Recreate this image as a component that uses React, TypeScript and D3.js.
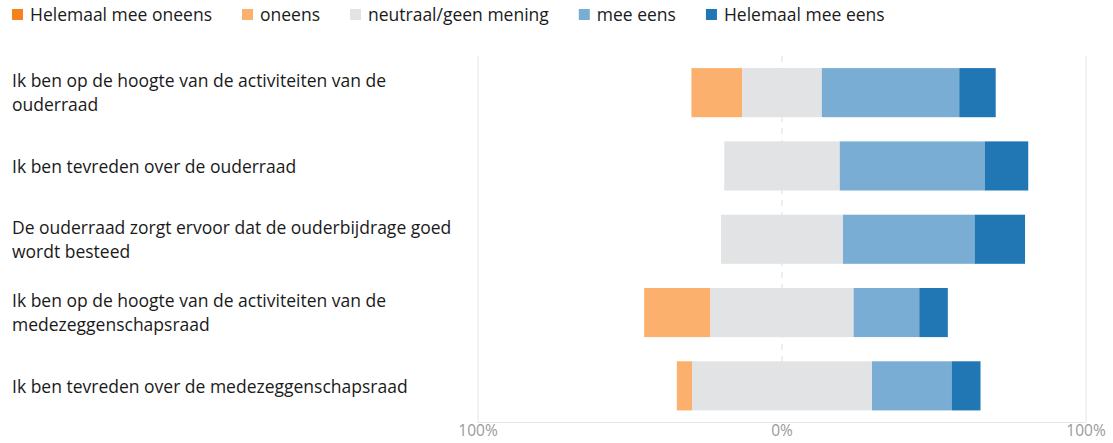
import { useEffect, useRef } from "react";
import * as d3 from "d3";

const WIDTH = 1113;
const HEIGHT = 443;

const seriesNames = [
  "Helemaal mee oneens",
  "oneens",
  "neutraal/geen mening",
  "mee eens",
  "Helemaal mee eens",
];
const seriesColors = ["#f5821f", "#fbb06d", "#e2e3e5", "#7aadd3", "#2077b4"];

// category labels, already broken into lines
const categoryLines = [
  ["Ik ben op de hoogte van de activiteiten van de", "ouderraad"],
  ["Ik ben tevreden over de ouderraad"],
  ["De ouderraad zorgt ervoor dat de ouderbijdrage goed", "wordt besteed"],
  ["Ik ben op de hoogte van de activiteiten van de", "medezeggenschapsraad"],
  ["Ik ben tevreden over de medezeggenschapsraad"],
];

// percentages per category
const helemaalOneens = [0, 0, 0, 0, 0];
const oneens = [16.7, 0, 0, 21.8, 5.0];
const neutraal = [26.2, 38.0, 40.1, 47.1, 59.2];
const meeEens = [45.2, 47.7, 43.3, 21.6, 26.2];
const helemaalEens = [12.0, 14.3, 16.6, 9.4, 9.5];

const xTicks = [-100, 0, 100];

const FONT = "'Open Sans', 'Noto Sans', sans-serif";

export default function App() {
  const svgRef = useRef<SVGSVGElement>(null);

  useEffect(() => {
    if (!svgRef.current) return;
    const svg = d3.select(svgRef.current);
    svg.selectAll("*").remove();

    const x = d3.scaleLinear().domain([-100, 100]).range([478, 1086]);
    const y = d3
      .scaleBand<number>()
      .domain(categoryLines.map((_, i) => i))
      .range([56, 422.5])
      .paddingInner(0.33)
      .paddingOuter(0.165);

    const series = [helemaalOneens, oneens, neutraal, meeEens, helemaalEens];

    // gridlines at -100 / 100
    svg
      .append("g")
      .selectAll("line")
      .data([-100, 100])
      .join("line")
      .attr("x1", (d) => x(d))
      .attr("x2", (d) => x(d))
      .attr("y1", 56)
      .attr("y2", 422.5)
      .attr("stroke", "#e6e6e6")
      .attr("stroke-width", 1);

    // zero line, dashed
    svg
      .append("line")
      .attr("x1", x(0))
      .attr("x2", x(0))
      .attr("y1", 56)
      .attr("y2", 414)
      .attr("stroke", "#dcdcdc")
      .attr("stroke-width", 1)
      .attr("stroke-dasharray", "6,6");

    // bottom axis line
    svg
      .append("line")
      .attr("x1", x(-100))
      .attr("x2", x(100))
      .attr("y1", 422.5)
      .attr("y2", 422.5)
      .attr("stroke", "#e6e6e6");

    // stacked diverging bars
    const bars = svg.append("g");
    categoryLines.forEach((_, i) => {
      let start = -(helemaalOneens[i] + oneens[i] + neutraal[i] / 2);
      series.forEach((s, k) => {
        const v = s[i];
        if (v > 0) {
          bars
            .append("rect")
            .attr("x", x(start))
            .attr("y", y(i)!)
            .attr("width", x(start + v) - x(start))
            .attr("height", y.bandwidth())
            .attr("fill", seriesColors[k]);
        }
        start += v;
      });
    });

    // tick labels
    svg
      .append("g")
      .selectAll("text")
      .data(xTicks)
      .join("text")
      .attr("x", (d) => x(d))
      .attr("y", 436)
      .attr("text-anchor", "middle")
      .attr("font-family", FONT)
      .attr("font-size", 15.5)
      .attr("fill", "#9a9a9a")
      .text((d) => `${Math.abs(d)}%`);

    // category labels
    const labels = svg.append("g");
    categoryLines.forEach((lines, i) => {
      const cy = y(i)! + y.bandwidth() / 2;
      const t = labels
        .append("text")
        .attr("font-family", FONT)
        .attr("font-size", 17.5)
        .attr("fill", "#1a1a1a");
      lines.forEach((line, j) => {
        t.append("tspan")
          .attr("x", 12)
          .attr("y", cy + (j - (lines.length - 1) / 2) * 24)
          .attr("dy", "0.38em")
          .text(line);
      });
    });

    // legend
    const legend = svg.append("g");
    let lx = 12;
    seriesNames.forEach((name, k) => {
      legend
        .append("rect")
        .attr("x", lx)
        .attr("y", 9)
        .attr("width", 11)
        .attr("height", 11)
        .attr("fill", seriesColors[k]);
      const txt = legend
        .append("text")
        .attr("x", lx + 18)
        .attr("y", 21)
        .attr("font-family", FONT)
        .attr("font-size", 17.5)
        .attr("fill", "#1a1a1a")
        .text(name);
      const w = (txt.node() as SVGTextElement).getComputedTextLength();
      lx += 18 + w + 30;
    });
  }, []);

  return (
    <svg
      ref={svgRef}
      width={WIDTH}
      height={HEIGHT}
      style={{ position: "absolute", left: 0, top: 0, background: "#fff" }}
    />
  );
}
